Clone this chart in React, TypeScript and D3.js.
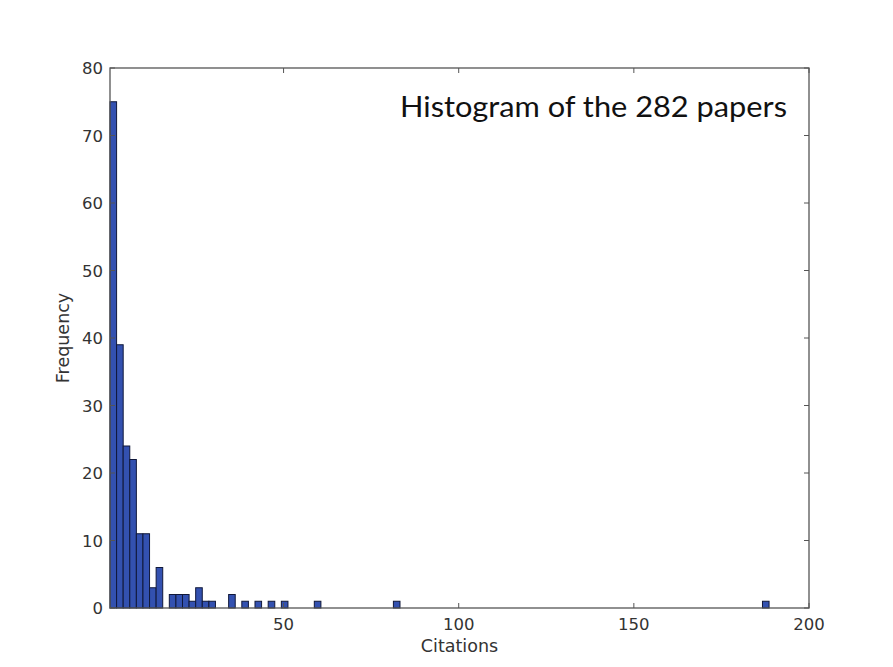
import React from "react";
import * as d3 from "d3";

// Histogram counts per bin (100 equal bins); index -> count, missing = 0
const binIndices = [0, 1, 2, 3, 4, 5, 6, 7, 9, 10, 11, 12, 13, 14, 15, 18, 20, 22, 24, 26, 31, 43, 99];
const binCounts = [75, 39, 24, 22, 11, 11, 3, 6, 2, 2, 2, 1, 3, 1, 1, 2, 1, 1, 1, 1, 1, 1, 1];
const binRange = [0.45, 188.6];
const binTotal = 100;
const xTicks = [50, 100, 150, 200];
const yTicks = [0, 10, 20, 30, 40, 50, 60, 70, 80];
const titleText = "Histogram of the 282 papers";

export default function App() {
  const W = 893, H = 667;
  const left = 110, right = 809, top = 68, bottom = 608;
  const x = d3.scaleLinear().domain([0.45, 200]).range([left, right]);
  const y = d3.scaleLinear().domain([0, 80]).range([bottom, top]);
  const bw = (binRange[1] - binRange[0]) / binTotal;
  const bars = binIndices.map((k, i) => ({
    x0: binRange[0] + k * bw,
    x1: binRange[0] + (k + 1) * bw,
    c: binCounts[i],
  }));
  const tl = 5;
  const font = "'DejaVu Sans', sans-serif";
  return (
    <svg width={W} height={H} style={{ position: "absolute", left: 0, top: 0, background: "#fff" }}>
      <rect x={0} y={0} width={W} height={H} fill="#fff" />
      {bars.filter(b => b.c > 0).map((b, i) => (
        <rect key={i} x={x(b.x0)} y={y(b.c)} width={x(b.x1) - x(b.x0)} height={y(0) - y(b.c)}
          fill="#3351b0" stroke="#10183a" strokeWidth={1} />
      ))}
      <rect x={left} y={top} width={right - left} height={bottom - top} fill="none" stroke="#555" strokeWidth={1.3} />
      {xTicks.map(t => (
        <g key={"x" + t}>
          <line x1={x(t)} x2={x(t)} y1={bottom} y2={bottom - tl} stroke="#555" />
          <line x1={x(t)} x2={x(t)} y1={top} y2={top + tl} stroke="#555" />
          <text x={x(t)} y={bottom + 22} textAnchor="middle" fontFamily={font} fontSize={16.5} fill="#333">{t}</text>
        </g>
      ))}
      {yTicks.map(t => (
        <g key={"y" + t}>
          <line x1={left} x2={left + tl} y1={y(t)} y2={y(t)} stroke="#555" />
          <line x1={right} x2={right - tl} y1={y(t)} y2={y(t)} stroke="#555" />
          <text x={103} y={y(t) + 6} textAnchor="end" fontFamily={font} fontSize={16.5} fill="#333">{t}</text>
        </g>
      ))}
      <text x={(left + right) / 2} y={652} textAnchor="middle" fontFamily={font} fontSize={17.5} fill="#333">Citations</text>
      <text transform={`translate(69,${(top + bottom) / 2}) rotate(-90)`} textAnchor="middle" fontFamily={font} fontSize={17.5} fill="#333">Frequency</text>
      <text x={787} y={117} textAnchor="end" fontFamily="Lato, 'Open Sans', sans-serif" fontSize={28} fill="#111"
        textLength={387} lengthAdjust="spacingAndGlyphs">{titleText}</text>
    </svg>
  );
}
